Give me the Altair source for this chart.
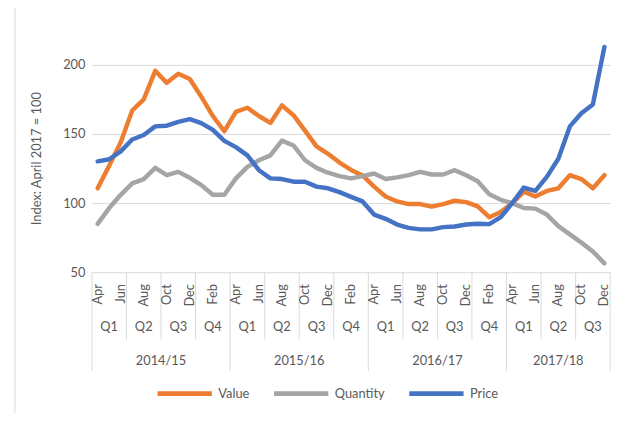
import altair as alt
import pandas as pd

# ---- data ----
month_names = ["Apr", "May", "Jun", "Jul", "Aug", "Sep", "Oct", "Nov", "Dec", "Jan", "Feb", "Mar"]
quarter_labels = ["Q1", "Q2", "Q3", "Q4"] * 3 + ["Q1", "Q2", "Q3"]
year_labels = ["2014/15", "2015/16", "2016/17", "2017/18"]
year_months = [12, 12, 12, 9]

series_names = ["Value", "Quantity", "Price"]
series_colors = ["#ED7D31", "#A5A5A5", "#4472C4"]

value = [110.7, 127, 144, 167, 175, 195.7, 187, 193.6, 189.8, 177, 163, 152,
         166, 169, 163, 158, 170.7, 163.6, 152.4, 141, 135.7, 129.3, 124, 120,
         111.9, 104.8, 101.2, 99.3, 99.3, 97.4, 99.3, 101.7, 100.7, 97.6, 89.8, 93.6,
         100, 108.3, 104.8, 108.8, 110.7, 120.2, 117.4, 110.7, 120.2]
quantity = [85, 96.4, 106, 114.3, 117.4, 125.5, 120.2, 122.6, 118.3, 113, 106, 106,
            117.9, 126.2, 131, 134.5, 145.2, 141.7, 131, 125.5, 122, 119.5, 117.9, 119.5,
            121.4, 117.4, 118.6, 120.2, 122.6, 120.7, 120.7, 123.8, 120.2, 115.8, 106.4, 102.4,
            100, 96.4, 96, 91.7, 83.3, 77.4, 71.4, 65, 56.4]
price = [130.2, 131.7, 137.4, 146, 149.3, 155.5, 156, 158.8, 160.7, 157.9, 153, 145,
         140.5, 134.5, 123.8, 117.9, 117.4, 115.5, 115.5, 111.9, 110.7, 107.9, 104.5, 101.2,
         91.7, 88.6, 84.5, 82.1, 81, 81, 82.6, 83.1, 84.5, 85, 84.8, 89.8,
         100, 111.2, 108.8, 119, 132.1, 155.5, 165, 171.4, 213]

y_ticks = [50, 100, 150, 200]

# ---- tables ----
n = len(value)
wide = pd.DataFrame({"idx": list(range(n)), "Value": value, "Quantity": quantity, "Price": price})
df = wide.melt(id_vars="idx", value_vars=series_names, var_name="series", value_name="val")

m_df = pd.DataFrame({"pos": list(range(0, n, 2)),
                     "label": [month_names[i % 12] for i in range(0, n, 2)]})
q_df = pd.DataFrame({"pos": [3 * k + 1 for k in range(len(quarter_labels))], "label": quarter_labels})

starts = [sum(year_months[:i]) for i in range(len(year_months))]
y_df = pd.DataFrame({"pos": [s + m / 2 - 0.5 for s, m in zip(starts, year_months)], "label": year_labels})

year_bounds = starts + [n]
ysep_df = pd.DataFrame({"pos": [b - 0.5 for b in year_bounds]})
qsep_df = pd.DataFrame({"pos": [3 * k - 0.5 for k in range(1, len(quarter_labels)) if 3 * k not in year_bounds]})

W, H = 525, 231
FONT = "Lato"
TXT = "#595959"
GRID = "#D9D9D9"
FS = 13

xscale = alt.Scale(domain=[-0.5, n - 0.5], nice=False, zero=False)
yscale = alt.Scale(domain=[50, 215], nice=False, zero=False)

lines = alt.Chart(df).mark_line(strokeWidth=4.5, strokeCap="round", strokeJoin="round").encode(
    x=alt.X("idx:Q", scale=xscale, axis=None),
    y=alt.Y("val:Q", scale=yscale,
            axis=alt.Axis(values=y_ticks, ticks=False, domain=False, grid=True, gridColor=GRID,
                          labelPadding=7, labelFont=FONT, labelFontSize=FS, labelColor=TXT,
                          title="Index: April 2017 = 100", titleFont=FONT, titleFontSize=FS,
                          titleColor=TXT, titleFontWeight="normal", titleAngle=270,
                          titleX=-56, titleY=H / 2, titleAlign="center", titleBaseline="middle")),
    color=alt.Color("series:N", scale=alt.Scale(domain=series_names, range=series_colors),
                    legend=alt.Legend(orient="none", legendX=64, legendY=324, direction="horizontal",
                                      title=None, symbolType="stroke", symbolSize=3025,
                                      symbolStrokeWidth=5, labelFont=FONT, labelFontSize=FS,
                                      labelColor=TXT, columnPadding=14, labelOffset=4, padding=0)),
)

qsep = alt.Chart(qsep_df).mark_rule(color=GRID, strokeWidth=1).encode(
    x=alt.X("pos:Q", scale=xscale, axis=None), y=alt.value(H), y2=alt.value(H + 68))
ysep = alt.Chart(ysep_df).mark_rule(color=GRID, strokeWidth=1).encode(
    x=alt.X("pos:Q", scale=xscale, axis=None), y=alt.value(H), y2=alt.value(H + 100))

mtext = alt.Chart(m_df).mark_text(font=FONT, fontSize=FS, color=TXT, angle=270, align="right",
                                  baseline="middle").encode(
    x=alt.X("pos:Q", scale=xscale, axis=None), y=alt.value(H + 12), text="label:N")
qtext = alt.Chart(q_df).mark_text(font=FONT, fontSize=FS, color=TXT, baseline="middle").encode(
    x=alt.X("pos:Q", scale=xscale, axis=None), y=alt.value(H + 56), text="label:N")
ytext = alt.Chart(y_df).mark_text(font=FONT, fontSize=FS, color=TXT, baseline="middle").encode(
    x=alt.X("pos:Q", scale=xscale, axis=None), y=alt.value(H + 90), text="label:N")

border = alt.Chart(pd.DataFrame({"a": [0]})).mark_rule(color=GRID, strokeWidth=1).encode(
    x=alt.value(-78), y=alt.value(-50), y2=alt.value(H + 160))

chart = alt.layer(border, qsep, ysep, mtext, qtext, ytext, lines).properties(
    width=W, height=H,
    autosize=alt.AutoSizeParams(type="none"),
    padding={"left": 85, "top": 34, "right": 13, "bottom": 140},
).configure_view(stroke=None)

chart.save("out.html", embed_options={"renderer": "svg", "actions": False})
